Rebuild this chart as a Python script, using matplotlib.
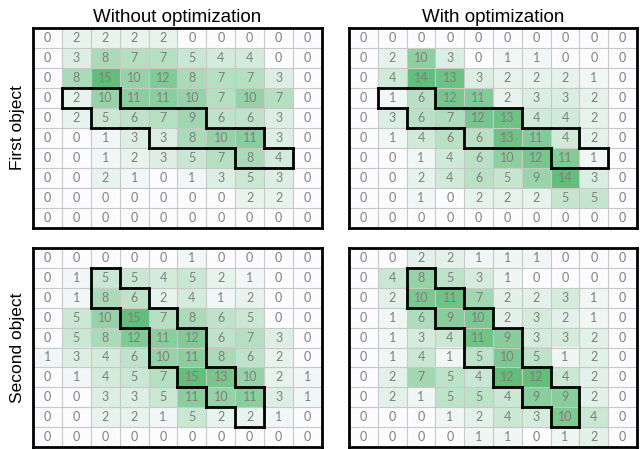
import matplotlib
matplotlib.use("Agg")
import matplotlib.pyplot as plt
import numpy as np
from matplotlib.colors import LinearSegmentedColormap

col_titles = ["Without optimization", "With optimization"]
row_titles = ["First object", "Second object"]

first_without = [
    [0, 2, 2, 2, 2, 0, 0, 0, 0, 0],
    [0, 3, 8, 7, 7, 5, 4, 4, 0, 0],
    [0, 8, 15, 10, 12, 8, 7, 7, 3, 0],
    [0, 2, 10, 11, 11, 10, 7, 10, 7, 0],
    [0, 2, 5, 6, 7, 9, 6, 6, 3, 0],
    [0, 0, 1, 3, 3, 8, 10, 11, 3, 0],
    [0, 0, 1, 2, 3, 5, 7, 8, 4, 0],
    [0, 0, 2, 1, 0, 1, 3, 5, 3, 0],
    [0, 0, 0, 0, 0, 0, 0, 2, 2, 0],
    [0, 0, 0, 0, 0, 0, 0, 0, 0, 0],
]
first_with = [
    [0, 0, 0, 0, 0, 0, 0, 0, 0, 0],
    [0, 2, 10, 3, 0, 1, 1, 0, 0, 0],
    [0, 4, 14, 13, 3, 2, 2, 2, 1, 0],
    [0, 1, 6, 12, 11, 2, 3, 3, 2, 0],
    [0, 3, 6, 7, 12, 13, 4, 4, 2, 0],
    [0, 1, 4, 6, 6, 13, 11, 4, 2, 0],
    [0, 0, 1, 4, 6, 10, 12, 11, 1, 0],
    [0, 0, 2, 4, 6, 5, 9, 14, 3, 0],
    [0, 0, 1, 0, 2, 2, 2, 5, 5, 0],
    [0, 0, 0, 0, 0, 0, 0, 0, 0, 0],
]
second_without = [
    [0, 0, 0, 0, 0, 1, 0, 0, 0, 0],
    [0, 1, 5, 5, 4, 5, 2, 1, 0, 0],
    [0, 1, 8, 6, 2, 4, 1, 2, 0, 0],
    [0, 5, 10, 15, 7, 8, 6, 5, 0, 0],
    [0, 5, 8, 12, 11, 12, 6, 7, 3, 0],
    [1, 3, 4, 6, 10, 11, 8, 6, 2, 0],
    [0, 1, 4, 5, 7, 15, 13, 10, 2, 1],
    [0, 0, 3, 3, 5, 11, 10, 11, 3, 1],
    [0, 0, 2, 2, 1, 5, 2, 2, 1, 0],
    [0, 0, 0, 0, 0, 0, 0, 0, 0, 0],
]
second_with = [
    [0, 0, 2, 2, 1, 1, 1, 0, 0, 0],
    [0, 4, 8, 5, 3, 1, 0, 0, 0, 0],
    [0, 2, 10, 11, 7, 2, 2, 3, 1, 0],
    [0, 1, 6, 9, 10, 2, 3, 2, 1, 0],
    [0, 1, 3, 4, 11, 9, 3, 3, 2, 0],
    [0, 1, 4, 1, 5, 10, 5, 1, 2, 0],
    [0, 2, 7, 5, 4, 12, 12, 4, 2, 0],
    [0, 2, 1, 5, 5, 4, 9, 9, 2, 0],
    [0, 0, 0, 1, 2, 4, 3, 10, 4, 0],
    [0, 0, 0, 0, 1, 1, 0, 1, 2, 0],
]

# outlined region (row, col) cells for each object
first_region = [(3, 1), (3, 2), (4, 2), (4, 3), (4, 4), (4, 5),
                (5, 4), (5, 5), (5, 6), (5, 7), (6, 7), (6, 8)]
second_region = [(1, 2), (2, 2), (2, 3), (3, 3), (3, 4), (4, 4), (4, 5),
                 (5, 4), (5, 5), (6, 5), (6, 6), (7, 6), (7, 7), (8, 7)]

panels = [[first_without, first_with], [second_without, second_with]]
regions = [first_region, second_region]

cmap = LinearSegmentedColormap.from_list("wg", ["#FCFCFF", "#63BE7B"])

W, H = 640, 449
fig = plt.figure(figsize=(W / 100, H / 100), dpi=100)

xs = [(33, 322), (349, 637)]
ys = [(28, 228), (248, 447)]

def outline(ax, cells):
    s = set(cells)
    kw = dict(color="black", lw=2.0, solid_capstyle="projecting", zorder=5)
    for (r, c) in cells:
        if (r - 1, c) not in s:
            ax.plot([c - 0.5, c + 0.5], [r - 0.5, r - 0.5], **kw)
        if (r + 1, c) not in s:
            ax.plot([c - 0.5, c + 0.5], [r + 0.5, r + 0.5], **kw)
        if (r, c - 1) not in s:
            ax.plot([c - 0.5, c - 0.5], [r - 0.5, r + 0.5], **kw)
        if (r, c + 1) not in s:
            ax.plot([c + 0.5, c + 0.5], [r - 0.5, r + 0.5], **kw)

for i in range(2):
    for j in range(2):
        x0, x1 = xs[j]
        y0, y1 = ys[i]
        ax = fig.add_axes([x0 / W, 1 - y1 / H, (x1 - x0) / W, (y1 - y0) / H])
        data = np.array(panels[i][j])
        ax.imshow(data, cmap=cmap, vmin=0, vmax=data.max(), aspect="auto",
                  interpolation="nearest")
        n_r, n_c = data.shape
        for k in range(1, n_c):
            ax.axvline(k - 0.5, color="#c8c8c8", lw=0.8, zorder=2)
        for k in range(1, n_r):
            ax.axhline(k - 0.5, color="#c8c8c8", lw=0.8, zorder=2)
        for r in range(n_r):
            for c in range(n_c):
                ax.text(c, r, str(data[r, c]), ha="center", va="center",
                        fontsize=9, color="#7f7f7f", family="Lato", zorder=3)
        outline(ax, regions[i])
        ax.set_xticks([])
        ax.set_yticks([])
        for sp in ax.spines.values():
            sp.set_linewidth(2.0)
            sp.set_color("black")
        ax.set_xlim(-0.5, n_c - 0.5)
        ax.set_ylim(n_r - 0.5, -0.5)
        if i == 0:
            ax.set_title(col_titles[j], fontsize=13.5, family="Liberation Sans", pad=4)
        if j == 0:
            ax.set_ylabel(row_titles[i], fontsize=12.5, family="Liberation Sans", labelpad=6)

fig.savefig("out.png", dpi=100)
